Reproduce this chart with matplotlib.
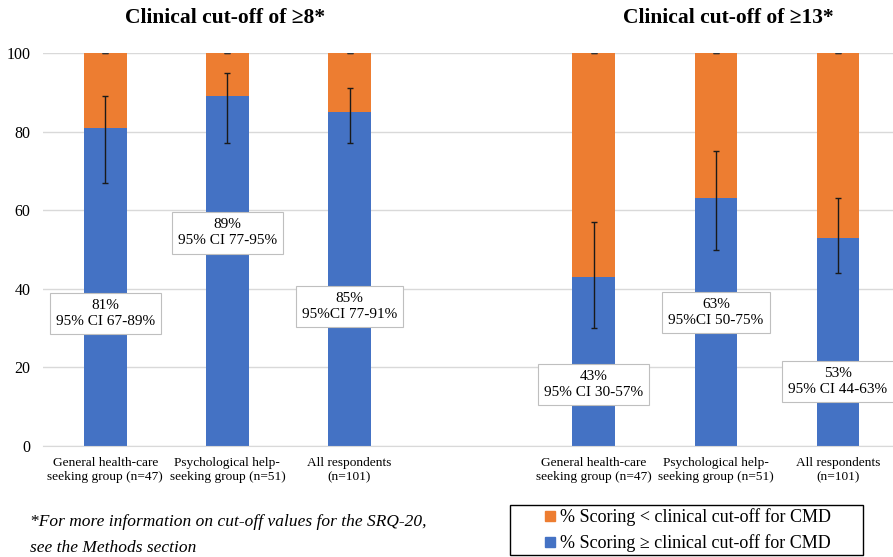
import numpy as np
import matplotlib.pyplot as plt
from matplotlib.patches import Patch, Rectangle

plt.rcParams['font.family'] = ['Liberation Serif', 'DejaVu Serif']

# data
groups = ['General health-care\nseeking group (n=47)',
          'Psychological help-\nseeking group (n=51)',
          'All respondents\n(n=101)']
pos = [0, 1, 2, 4, 5, 6]
above = [81, 89, 85, 43, 63, 53]
below = [19, 11, 15, 57, 37, 47]
ci_lo = [67, 77, 77, 30, 50, 44]
ci_hi = [89, 95, 91, 57, 75, 63]
below_err = [0, 0, 0, 0, 0, 0]
box_text = ['81%\n95% CI 67-89%', '89%\n95% CI 77-95%', '85%\n95%CI 77-91%',
            '43%\n95% CI 30-57%', '63%\n95%CI 50-75%', '53%\n95% CI 44-63%']
box_y = [33.7, 54.2, 35.4, 15.6, 34.0, 16.4]

blue = '#4472C4'
orange = '#ED7D31'

fig = plt.figure(figsize=(8.93, 5.57), dpi=100)
ax = fig.add_axes([43/893, 1-446/557, 1-43/893, (446-53)/557])

ax.bar(pos, above, width=0.35, color=blue, zorder=2)
ax.bar(pos, below, width=0.35, bottom=above, color=orange, zorder=2)

err = [np.array(above) - np.array(ci_lo), np.array(ci_hi) - np.array(above)]
ax.errorbar(pos, above, yerr=err, fmt='none', ecolor='#1a1a1a', elinewidth=1,
            capsize=2.5, capthick=1, zorder=3)
tops = np.array(above) + np.array(below)
ax.errorbar(pos, tops, yerr=below_err, fmt='none', ecolor='#333333', elinewidth=1,
            capsize=2.5, capthick=1, zorder=3)

for x, y, t in zip(pos, box_y, box_text):
    ax.text(x, y, t, ha='center', va='center', fontsize=11, zorder=4,
            linespacing=1.3,
            bbox=dict(boxstyle='square,pad=0.4', fc='white', ec='#bfbfbf', lw=0.8))

ax.set_ylim(0, 100)
ax.set_xlim(-0.51, 6.45)
ax.set_yticks(range(0, 101, 20))
ax.set_xticks(pos)
ax.set_xticklabels(groups * 2, fontsize=9.6, linespacing=1.25)
ax.tick_params(axis='y', labelsize=11.5, length=0, pad=9)
ax.tick_params(axis='x', length=0, pad=8)
ax.yaxis.grid(True, color='#d9d9d9', lw=1, zorder=0)
ax.set_axisbelow(True)
for s in ['top', 'right', 'left']:
    ax.spines[s].set_visible(False)
ax.spines['bottom'].set_color('#d9d9d9')

fig.text(225/893, 1-18/557, 'Clinical cut-off of ≥8*', ha='center', va='center',
         fontsize=15.5, fontweight='bold')
fig.text(728/893, 1-18/557, 'Clinical cut-off of ≥13*', ha='center', va='center',
         fontsize=15.5, fontweight='bold')

fig.text(30/893, 1-535/557, '*For more information on cut-off values for the SRQ-20,\nsee the Methods section',
         ha='left', va='center', fontsize=12.5, style='italic', linespacing=1.8)

# legend box drawn separately so it can be wider than the entries
fig.patches.append(Rectangle((510/893, 2/557), (863-510)/893, (555-505)/557,
                             transform=fig.transFigure, fill=False,
                             ec='black', lw=1))
handles = [Patch(color=orange, label='% Scoring < clinical cut-off for CMD'),
           Patch(color=blue, label='% Scoring ≥ clinical cut-off for CMD')]
leg = fig.legend(handles=handles, loc='center', bbox_to_anchor=(688/893, 1-530.5/557),
                 fontsize=13, frameon=False,
                 handlelength=0.55, handleheight=0.55, handletextpad=0.3,
                 borderpad=0.2, labelspacing=0.45)

plt.savefig('out.png', dpi=100)
